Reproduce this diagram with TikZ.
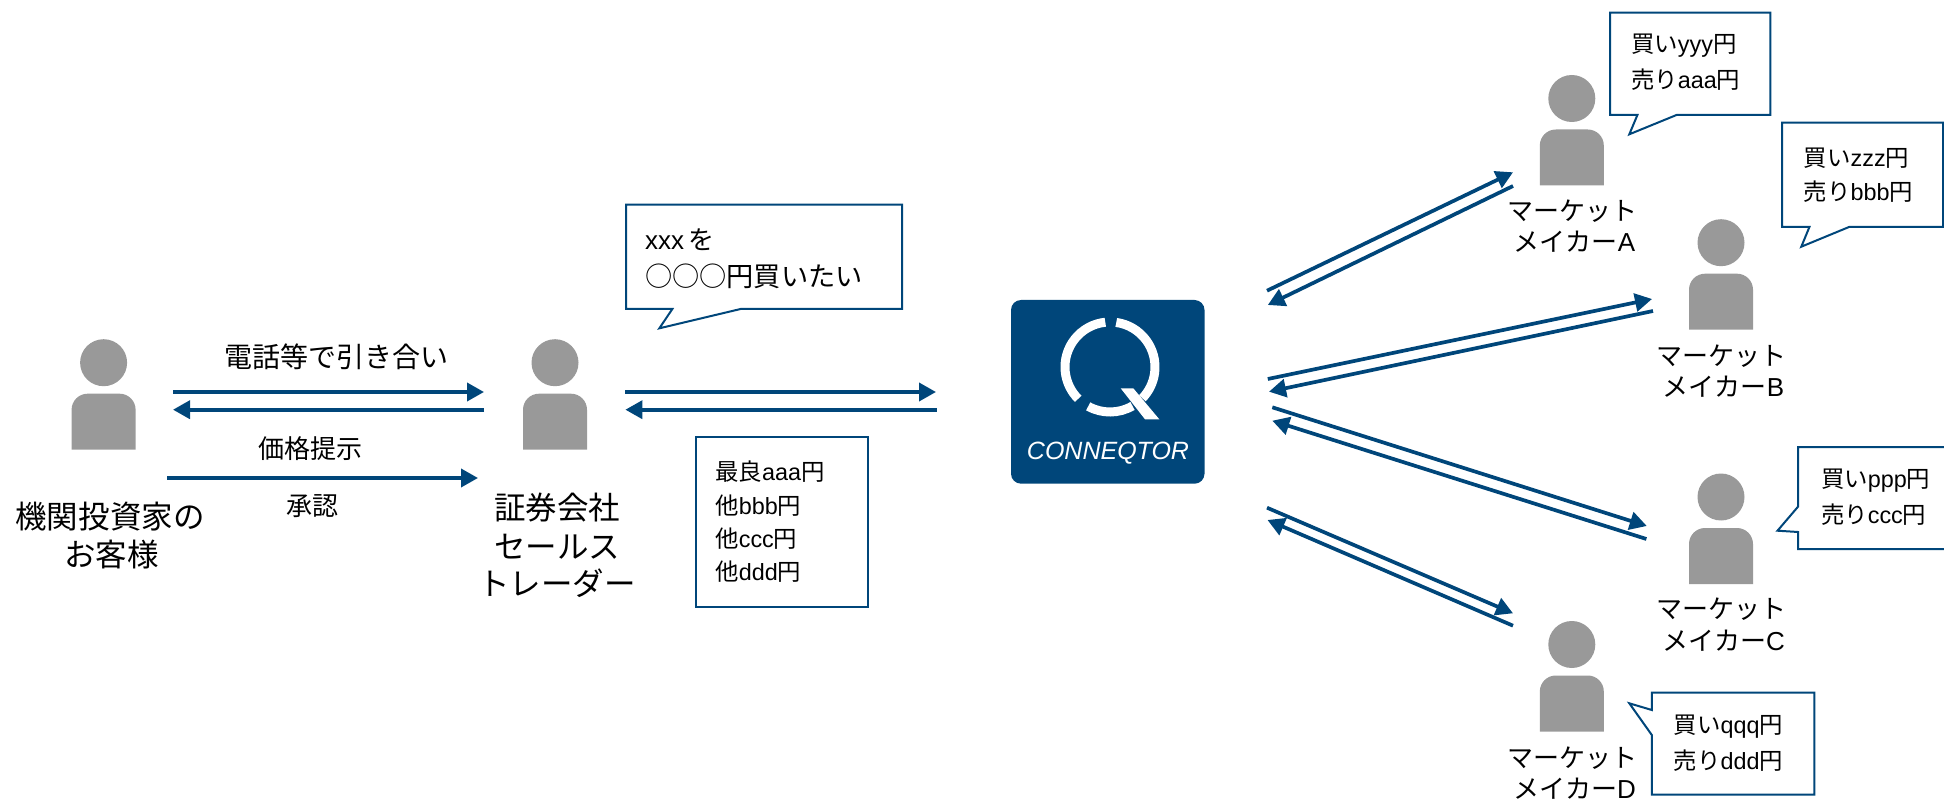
\documentclass[tikz,border=0pt]{standalone}
\usepackage{fontspec}
\setmainfont{Liberation Sans}
\newfontfamily\jpfont{Noto Sans CJK JP}
\usetikzlibrary{arrows.meta}
\definecolor{connblue}{HTML}{00467A}
\definecolor{persongray}{HTML}{999999}
\newcommand{\jp}[1]{{\jpfont #1}}
\newcommand{\person}[3]{%
\node[personhead] (#1) at (#2,#3) {};
\fill[persongray] (#2-32,#3+87) [rounded corners=8pt] -- (#2-32,#3+31) -- (#2+32,#3+31) [sharp corners] -- (#2+32,#3+87) -- cycle;
}
\tikzset{
personhead/.style={circle,fill=persongray,minimum size=23.5pt,inner sep=0pt},
flow/.style={connblue,line width=1.85pt,-{Triangle[length=8.5pt,width=9pt]}},
balloon/.style={connblue,line width=1pt,line join=miter},
bigtext/.style={inner sep=0pt,font=\fontsize{15.75pt}{18pt}\selectfont},
midtext/.style={inner sep=0pt,font=\fontsize{13pt}{16pt}\selectfont},
boxtext/.style={inner sep=0pt,anchor=west,font=\fontsize{11.7pt}{15pt}\selectfont}
}
\begin{document}
\begin{tikzpicture}[x=0.5pt,y=-0.5pt]
\useasboundingbox (0,0) rectangle (1944,802);
% people
\person{client}{103.6}{362.7}
\person{sales}{555}{362.7}
\person{makerA}{1571.8}{98.5}
\person{makerB}{1721}{242.7}
\person{makerC}{1721}{497}
\person{makerD}{1571.8}{644.5}
% logo
\node[fill=connblue,rounded corners=5pt,minimum width=96.75pt,minimum height=91.85pt,inner sep=0pt] (logo) at (1107.75,391.85) {};
\coordinate (ring) at (1110,367);
\draw[white,line width=4.5pt] (ring) ++(96:22.5pt) arc[start angle=96,end angle=225,radius=22.5pt];
\draw[white,line width=4.5pt] (ring) ++(82:22.5pt) arc[start angle=82,end angle=-44,radius=22.5pt];
\draw[white,line width=4.5pt] (ring) ++(241:22.5pt) arc[start angle=241,end angle=300,radius=22.5pt];
\fill[white] (1120.7,388.3) -- (1133.3,388.3) -- (1159.3,419.3) -- (1145,419.3) -- cycle;
\node[inner sep=0pt,text=white,font=\fontsize{12.5pt}{15pt}\itshape\selectfont] (logoname) at (1108,453) {CONNEQTOR};
% free ends of the arrows
\coordinate (cs1) at (173,392);
\coordinate (ce1) at (484,392);
\coordinate (cs2) at (484,409.7);
\coordinate (ce2) at (173,409.7);
\coordinate (cs3) at (167,478);
\coordinate (ce3) at (478,478);
\coordinate (ss1) at (625.4,392);
\coordinate (se1) at (936,392);
\coordinate (ss2) at (936.6,409.7);
\coordinate (se2) at (625.4,409.7);
\coordinate (as1) at (1267,290.7);
\coordinate (ae1) at (1513,172.3);
\coordinate (as2) at (1513,186);
\coordinate (ae2) at (1267.8,305);
\coordinate (bs1) at (1267.8,379);
\coordinate (be1) at (1652,299);
\coordinate (bs2) at (1653,311);
\coordinate (be2) at (1269,391.7);
\coordinate (ms1) at (1272.3,407.3);
\coordinate (me1) at (1646.8,526);
\coordinate (ms2) at (1646.4,539);
\coordinate (me2) at (1272.3,420.7);
\coordinate (ds1) at (1267,507.7);
\coordinate (de1) at (1513,613.3);
\coordinate (ds2) at (1513,625.7);
\coordinate (de2) at (1267.5,520);
% arrows
\draw[flow] (cs1) -- (ce1);
\draw[flow] (cs2) -- (ce2);
\draw[flow] (cs3) -- (ce3);
\draw[flow] (ss1) -- (se1);
\draw[flow] (ss2) -- (se2);
\draw[flow] (as1) -- (ae1);
\draw[flow] (as2) -- (ae2);
\draw[flow] (bs1) -- (be1);
\draw[flow] (bs2) -- (be2);
\draw[flow] (ms1) -- (me1);
\draw[flow] (ms2) -- (me2);
\draw[flow] (ds1) -- (de1);
\draw[flow] (ds2) -- (de2);
% balloons
\draw[balloon] (626,204.7) -- (902,204.7) -- (902,309) -- (740.6,309) -- (659.4,328.3) -- (672.3,309) -- (626,309) -- cycle;
\draw[balloon] (696,436.7) rectangle (868.3,606.7);
\draw[balloon] (1610,12.7) -- (1770.3,12.7) -- (1770.3,115) -- (1676.5,115) -- (1629.3,134.3) -- (1637.4,115) -- (1610,115) -- cycle;
\draw[balloon] (1782,122.7) -- (1943,122.7) -- (1943,227) -- (1849,227) -- (1801.3,246.7) -- (1809.4,227) -- (1782,227) -- cycle;
\draw[balloon] (1798,447) -- (1946,447) -- (1946,549) -- (1798,549) -- (1798,532) -- (1777.5,530.7) -- (1798,506.7) -- cycle;
\draw[balloon] (1651.8,692.7) -- (1814.3,692.7) -- (1814.3,794.7) -- (1651.8,794.7) -- (1651.8,735) -- (1629.3,703.3) -- (1651.8,710) -- cycle;
% labels
\node[midtext,font=\fontsize{14pt}{16pt}\selectfont] (ask) at (336,356.7) {\jp{電話等で引き合い}};
\node[midtext] (price) at (310,449) {\jp{価格提示}};
\node[midtext] (ok) at (312.5,506) {\jp{承認}};
\node[bigtext] (client1) at (110,516.7) {\jp{機関投資家の}};
\node[bigtext] (client2) at (111.6,555) {\jp{お客様}};
\node[bigtext] (sales1) at (557,507.5) {\jp{証券会社}};
\node[bigtext] (sales2) at (557,547) {\jp{セールス}};
\node[bigtext] (sales3) at (557,583) {\jp{トレーダー}};
\node[midtext] (a1) at (1572,211) {\jp{マーケット}};
\node[midtext] (a2) at (1574.5,241.7) {\jp{メイカー}A};
\node[midtext] (b1) at (1721.4,356) {\jp{マーケット}};
\node[midtext] (b2) at (1723.6,386.7) {\jp{メイカー}B};
\node[midtext] (c1) at (1721.4,609) {\jp{マーケット}};
\node[midtext] (c2) at (1723.6,640.7) {\jp{メイカー}C};
\node[midtext] (d1) at (1572,758) {\jp{マーケット}};
\node[midtext] (d2) at (1574.5,788.8) {\jp{メイカー}D};
% balloon texts
\node[boxtext,font=\fontsize{13pt}{16pt}\selectfont] (want1) at (644.6,240) {xxx\,\jp{を}};
\node[boxtext,font=\fontsize{13.6pt}{16pt}\selectfont] (want2) at (644.6,276) {\jp{○○○円買いたい}};
\node[boxtext] (best) at (715,471.7) {\jp{最良}aaa\jp{円}};
\node[boxtext] (othb) at (715,505.7) {\jp{他}bbb\jp{円}};
\node[boxtext] (othc) at (715,538.5) {\jp{他}ccc\jp{円}};
\node[boxtext] (othd) at (715,571.7) {\jp{他}ddd\jp{円}};
\node[boxtext] (buya) at (1630.7,45.7) {\jp{買い}yyy\jp{円}};
\node[boxtext] (sella) at (1630.7,80) {\jp{売り}aaa\jp{円}};
\node[boxtext] (buyb) at (1803.5,157.7) {\jp{買い}zzz\jp{円}};
\node[boxtext] (sellb) at (1803.5,191.7) {\jp{売り}bbb\jp{円}};
\node[boxtext] (buyc) at (1820.6,480.7) {\jp{買い}ppp\jp{円}};
\node[boxtext] (sellc) at (1820.6,514.3) {\jp{売り}ccc\jp{円}};
\node[boxtext] (buyd) at (1673.3,726.7) {\jp{買い}qqq\jp{円}};
\node[boxtext] (selld) at (1673.3,760.7) {\jp{売り}ddd\jp{円}};
\end{tikzpicture}
\end{document}
